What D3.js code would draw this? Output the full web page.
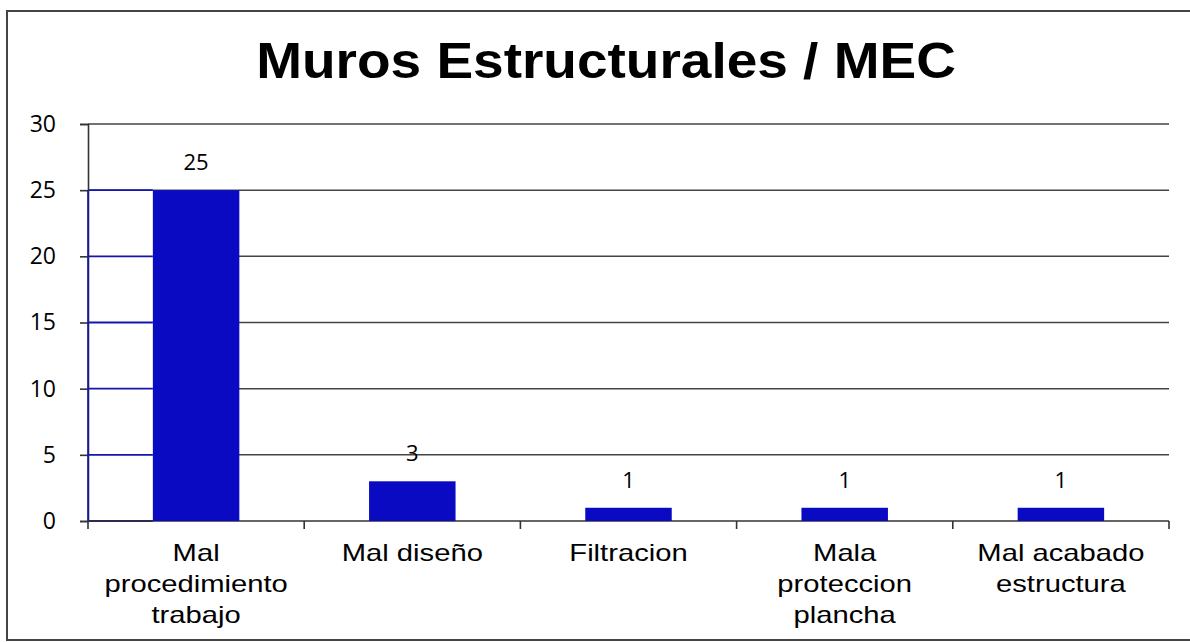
<!DOCTYPE html>
<html>
<head>
<meta charset="utf-8">
<script src="https://cdn.jsdelivr.net/npm/d3@7"></script>
<style>
  body { margin: 0; background: #fff; }
  svg { display: block; }
</style>
</head>
<body>
<div id="chart"></div>
<script>
// chart data
const chartTitle = "Muros Estructurales / MEC";
const categories = [
    "Mal\nprocedimiento\ntrabajo",
    "Mal diseño",
    "Filtracion",
    "Mala\nproteccion\nplancha",
    "Mal acabado\nestructura"
];
const values = [25, 3, 1, 1, 1];
const yTicks = [0, 5, 10, 15, 20, 25, 30];

const W = 1190, H = 642;
const plot = { left: 88, right: 1169, top: 124, bottom: 521 };

const svg = d3.select("#chart").append("svg")
    .attr("width", W)
    .attr("height", H);

svg.append("rect")
    .attr("width", W).attr("height", H)
    .attr("fill", "#fff");

// outer frame (scan edge)
svg.append("path")
    .attr("d", `M1190,11 L7,11 L7,640 L1190,640`)
    .attr("fill", "none")
    .attr("stroke", "#444")
    .attr("stroke-width", 2);

// title
svg.append("text")
    .attr("transform", "translate(606,78) scale(1.1,1)")
    .attr("text-anchor", "middle")
    .style("font-family", "'Liberation Sans', Arial, sans-serif")
    .style("font-weight", "bold")
    .style("font-size", "50px")
    .attr("fill", "#000")
    .text(chartTitle);

const x = d3.scaleBand()
    .domain(categories)
    .range([plot.left, plot.right])
    .paddingInner(0.6)
    .paddingOuter(0.3);

const y = d3.scaleLinear()
    .domain([0, 30])
    .range([plot.bottom, plot.top]);

// band boundaries for x ticks
const bounds = d3.range(categories.length + 1).map(i => plot.left + i * (plot.right - plot.left) / categories.length);

// gridlines
svg.append("g")
    .selectAll("line")
    .data(yTicks.filter(d => d > 0))
    .enter()
    .append("line")
    .attr("x1", plot.left)
    .attr("x2", plot.right)
    .attr("y1", d => y(d))
    .attr("y2", d => y(d))
    .attr("stroke", "#444")
    .attr("stroke-width", 1.5);

// white patch left of first bar (scan artifact) with blue lines
const firstLeft = x(categories[0]);
svg.append("rect")
    .attr("x", plot.left)
    .attr("y", y(values[0]))
    .attr("width", firstLeft - plot.left)
    .attr("height", y(0) - y(values[0]))
    .attr("fill", "#fff");
svg.append("g")
    .selectAll("line")
    .data(yTicks.filter(d => d <= values[0]))
    .enter()
    .append("line")
    .attr("x1", plot.left)
    .attr("x2", firstLeft)
    .attr("y1", d => y(d))
    .attr("y2", d => y(d))
    .attr("stroke", "#1515b0")
    .attr("stroke-width", 1.8);

// y axis
const yAxis = svg.append("g")
    .attr("transform", `translate(${plot.left},0)`)
    .call(d3.axisLeft(y).tickValues(yTicks).tickSize(8).tickPadding(24));
yAxis.select(".domain").attr("stroke", "#333").attr("stroke-width", 1.6);
yAxis.selectAll(".tick line").attr("stroke", "#333").attr("stroke-width", 1.6);
yAxis.selectAll(".tick text")
    .attr("fill", "#000")
    .style("font-family", "'Open Sans', sans-serif")
    .style("font-size", "23px");

// blue part of the y axis next to the artifact
svg.append("line")
    .attr("x1", plot.left).attr("x2", plot.left)
    .attr("y1", y(values[0])).attr("y2", y(0))
    .attr("stroke", "#1515b0")
    .attr("stroke-width", 1.6);

// x axis line and ticks
svg.append("line")
    .attr("x1", plot.left).attr("x2", plot.right)
    .attr("y1", y(0)).attr("y2", y(0))
    .attr("stroke", "#333")
    .attr("stroke-width", 1.6);
svg.append("g")
    .selectAll("line")
    .data(bounds)
    .enter()
    .append("line")
    .attr("x1", d => d).attr("x2", d => d)
    .attr("y1", y(0)).attr("y2", y(0) + 8)
    .attr("stroke", "#333")
    .attr("stroke-width", 1.6);

// bars
svg.append("g")
    .selectAll("rect")
    .data(values)
    .enter()
    .append("rect")
    .attr("x", (d, i) => x(categories[i]))
    .attr("y", d => y(d))
    .attr("width", x.bandwidth())
    .attr("height", d => y(0) - y(d))
    .attr("fill", "#0a0ac2");

// value labels
svg.append("g")
    .selectAll("text")
    .data(values)
    .enter()
    .append("text")
    .attr("x", (d, i) => x(categories[i]) + x.bandwidth() / 2)
    .attr("y", d => y(d) - 20)
    .attr("text-anchor", "middle")
    .style("font-family", "'Open Sans', sans-serif")
    .style("font-size", "22px")
    .attr("fill", "#000")
    .text(d => d);

// category labels
const catG = svg.append("g")
    .selectAll("g")
    .data(categories)
    .enter()
    .append("g")
    .attr("transform", d => `translate(${x(d) + x.bandwidth() / 2},561) scale(1.27,1)`);
catG.append("text")
    .attr("text-anchor", "middle")
    .style("font-family", "'Liberation Sans', Arial, sans-serif")
    .style("font-size", "23px")
    .attr("fill", "#000")
    .selectAll("tspan")
    .data(d => d.split("\n"))
    .enter()
    .append("tspan")
    .attr("x", 0)
    .attr("dy", (d, i) => i === 0 ? 0 : 31)
    .text(d => d);
</script>
</body>
</html>
